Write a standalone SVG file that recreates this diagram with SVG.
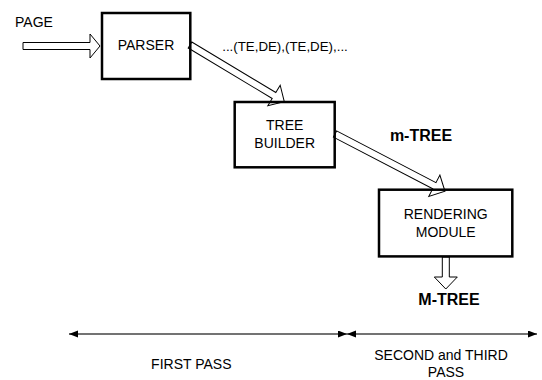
<svg xmlns="http://www.w3.org/2000/svg" width="542" height="380" viewBox="0 0 542 380">
<style>
.box{fill:none;stroke:#000;stroke-width:2.5}
.arr{fill:#fff;stroke:#000;stroke-width:1;stroke-linejoin:miter}
.t{font-family:"Liberation Sans",Arial,sans-serif;font-size:14px;fill:#000;text-anchor:middle}
.b{font-weight:bold;font-size:16px}
.span{stroke:#444;stroke-width:1.4;fill:none}
</style>
<defs>
<marker id="ah" markerUnits="userSpaceOnUse" markerWidth="10" markerHeight="8" refX="9" refY="3.5" orient="auto-start-reverse">
<path d="M0,0 L9,3.5 L0,7 z" fill="#000"/>
</marker>
</defs>
<rect width="542" height="380" fill="#fff"/>
<g id="connectors">
<polygon class="arr" points="23,42.5 90,42.5 90,34 100,46 90,58 90,49.5 23,49.5"/>
<polygon class="arr" transform="translate(190,45) rotate(31)" points="0,-3.5 98,-3.5 98,-12 110,0 98,12 98,3.5 0,3.5"/>
<polygon class="arr" transform="translate(335,134) rotate(27.5)" points="0,-3.5 112,-3.5 112,-12 124,0 112,12 112,3.5 0,3.5"/>
<polygon class="arr" points="442.3,257 449.3,257 449.3,277 457.3,277 445.8,289 434.3,277 442.3,277"/>
<line class="span" x1="69" y1="334" x2="347" y2="334" marker-start="url(#ah)" marker-end="url(#ah)"/>
<line class="span" x1="347" y1="334" x2="537" y2="334" marker-start="url(#ah)" marker-end="url(#ah)"/>
</g>
<g id="page">
<text class="t" x="34" y="27">PAGE</text>
</g>
<g id="parser">
<rect class="box" x="102" y="13" width="88.3" height="66"/>
<text class="t" x="146" y="50">PARSER</text>
</g>
<g id="stream-label">
<text class="t" x="285" y="51" style="font-size:13.3px">...(TE,DE),(TE,DE),...</text>
</g>
<g id="tree-builder">
<rect class="box" x="234.7" y="102" width="100" height="65.3"/>
<text class="t" x="284.7" y="130">TREE</text>
<text class="t" x="284.7" y="147.7">BUILDER</text>
</g>
<g id="m-tree-label">
<text class="t b" x="421" y="141">m-TREE</text>
</g>
<g id="rendering-module">
<rect class="box" x="379" y="189.7" width="133.3" height="66.7"/>
<text class="t" x="445.7" y="219.3">RENDERING</text>
<text class="t" x="445.7" y="236.8">MODULE</text>
</g>
<g id="M-tree-label">
<text class="t b" x="449" y="305">M-TREE</text>
</g>
<g id="first-pass">
<text class="t" x="191.3" y="369">FIRST PASS</text>
</g>
<g id="second-third-pass">
<text class="t" x="441" y="360">SECOND and THIRD</text>
<text class="t" x="446" y="377">PASS</text>
</g>
</svg>
